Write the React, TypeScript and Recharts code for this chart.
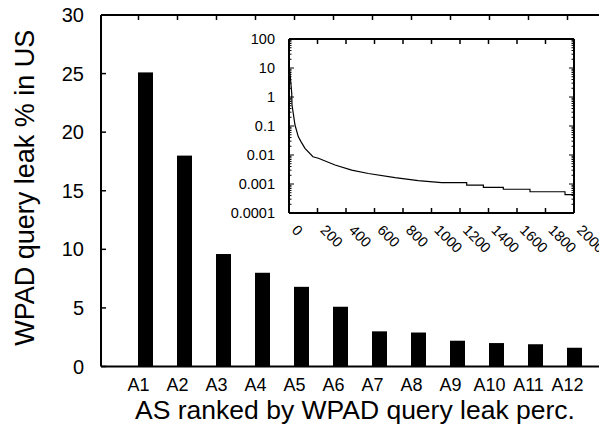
import React from 'react';
import { BarChart, Bar, XAxis, YAxis, LineChart, Line, Label } from 'recharts';

const AS_NAMES = ['A1', 'A2', 'A3', 'A4', 'A5', 'A6', 'A7', 'A8', 'A9', 'A10', 'A11', 'A12'];
const LEAK_PCT = [25.1, 18.0, 9.6, 8.0, 6.8, 5.1, 3.0, 2.9, 2.2, 2.0, 1.9, 1.6];
const PCT_TICKS = [0, 5, 10, 15, 20, 25, 30];

// inset: leak share by AS rank (log scale)
const RANK = [1, 7, 19, 21, 42, 65, 84, 112, 168, 206, 323, 440, 557, 744, 907, 1071, 1247, 1247, 1364, 1364, 1504, 1504, 1691, 1691, 1937, 1937, 2000];
const SHARE = [10, 6.6, 1.37, 0.54, 0.108, 0.043, 0.029, 0.017, 0.0087, 0.0077, 0.0045, 0.003, 0.0023, 0.00165, 0.0013, 0.00111, 0.00111, 0.00092, 0.00092, 0.00077, 0.00077, 0.00066, 0.00066, 0.00054, 0.00054, 0.00043, 0.00043];
const RANK_TICKS = [0, 200, 400, 600, 800, 1000, 1200, 1400, 1600, 1800, 2000];
const DECADES = [0.0001, 0.001, 0.01, 0.1, 1, 10, 100];

const FONT = '"Liberation Sans", Arial, Helvetica, sans-serif';

if (typeof document !== 'undefined') document.body.style.margin = '0';

const barData = AS_NAMES.map((name, i) => ({ name, pct: LEAK_PCT[i] }));
const lineData = RANK.map((rank, i) => ({ rank, share: SHARE[i] }));
const logTicks = DECADES.flatMap((d) =>
  d === 100 ? [d] : [1, 2, 3, 4, 5, 6, 7, 8, 9].map((m) => d * m)
);

const OffsetBar = (p: any) => (
  <rect x={p.x + 7} y={p.y} width={p.width} height={p.height} fill="#000" />
);
const NoBar = () => <g />;

const PctTick = (p: any) => (
  <g>
    <line x1={p.x} x2={p.x + 5} y1={p.y} y2={p.y} stroke="#000" strokeWidth={1.5} />
    <text x={p.x - 17} y={p.y} dy="0.35em" textAnchor="end" fontSize={20} fontFamily={FONT} fill="#000">
      {p.payload.value}
    </text>
  </g>
);

const CatTick = (p: any) => (
  <text x={p.x} y={p.y + 24} textAnchor="middle" fontSize={18} fontFamily={FONT} fill="#000">
    {p.payload.value}
  </text>
);

const TopCatTick = (p: any) => (
  <line x1={p.x} x2={p.x} y1={p.y} y2={p.y + 5} stroke="#000" strokeWidth={1.5} />
);

const RankTick = (p: any) => (
  <g>
    <line x1={p.x} x2={p.x} y1={p.y} y2={p.y - 5} stroke="#000" strokeWidth={1.5} />
    <text
      x={p.x + 2}
      y={p.y + 18}
      transform={`rotate(45 ${p.x + 2} ${p.y + 18})`}
      textAnchor="start"
      fontSize={14.5}
      fontFamily={FONT}
      fill="#000"
    >
      {p.payload.value}
    </text>
  </g>
);

const TopRankTick = (p: any) => (
  <line x1={p.x} x2={p.x} y1={p.y} y2={p.y + 5} stroke="#000" strokeWidth={1.5} />
);

const ShareTick = (p: any) => {
  const major = DECADES.includes(p.payload.value);
  return (
    <g>
      <line x1={p.x} x2={p.x + (major ? 5 : 2.5)} y1={p.y} y2={p.y} stroke="#000" strokeWidth={1} />
      {major && (
        <text x={p.x - 14} y={p.y} dy="0.35em" textAnchor="end" fontSize={14.5} fontFamily={FONT} fill="#000">
          {String(p.payload.value)}
        </text>
      )}
    </g>
  );
};

const RightShareTick = (p: any) => {
  const major = DECADES.includes(p.payload.value);
  return <line x1={p.x} x2={p.x - (major ? 5 : 2.5)} y1={p.y} y2={p.y} stroke="#000" strokeWidth={1} />;
};

const axisLine = { stroke: '#000', strokeWidth: 2 };

export default function App() {
  return (
    <div style={{ position: 'relative', width: 599, height: 434, overflow: 'hidden', background: '#fff' }}>
      <div style={{ position: 'absolute', left: 0, top: 0 }}>
        <BarChart width={605} height={434} data={barData} margin={{ top: 14, right: 0, bottom: 7.5, left: 0 }}>
          <XAxis
            dataKey="name"
            xAxisId="b"
            height={60}
            interval={0}
            padding={{ left: 18, right: 18 }}
            tickLine={false}
            tickSize={0}
            tickMargin={0}
            axisLine={axisLine}
            tick={<CatTick />}
          >
            <Label
              content={({ viewBox }: any) => (
                <text
                  x={viewBox.x + viewBox.width / 2 + 2}
                  y={viewBox.y + 52}
                  textAnchor="middle"
                  fontSize={26.5}
                  fontFamily={FONT}
                  fill="#000"
                >
                  AS ranked by WPAD query leak perc.
                </text>
              )}
            />
          </XAxis>
          <XAxis
            dataKey="name"
            xAxisId="t"
            orientation="top"
            height={1}
            interval={0}
            padding={{ left: 18, right: 18 }}
            tickLine={false}
            tickSize={0}
            tickMargin={0}
            axisLine={axisLine}
            tick={<TopCatTick />}
          />
          <YAxis
            width={101}
            domain={[0, 30]}
            ticks={PCT_TICKS}
            interval={0}
            tickLine={false}
            tickSize={0}
            tickMargin={0}
            axisLine={axisLine}
            tick={<PctTick />}
          >
            <Label
              content={({ viewBox }: any) => {
                const cx = viewBox.x + 25;
                const cy = viewBox.y + viewBox.height / 2 - 3;
                return (
                  <text
                    x={cx}
                    y={cy}
                    transform={`rotate(-90 ${cx} ${cy})`}
                    textAnchor="middle"
                    dominantBaseline="central"
                    fontSize={27}
                    fontFamily={FONT}
                    fill="#000"
                  >
                    WPAD query leak % in US
                  </text>
                );
              }}
            />
          </YAxis>
          <Bar dataKey="pct" xAxisId="b" barSize={15} fill="#000" shape={OffsetBar} isAnimationActive={false} />
          <Bar dataKey="pct" xAxisId="t" barSize={15} fill="none" shape={NoBar} isAnimationActive={false} />
        </BarChart>
      </div>
      <div style={{ position: 'absolute', left: 208, top: 23 }}>
        <LineChart width={391} height={250} data={lineData} margin={{ top: 15, right: 24, bottom: 20, left: 0 }}>
          <XAxis
            type="number"
            dataKey="rank"
            domain={[0, 2000]}
            ticks={RANK_TICKS}
            interval={0}
            allowDataOverflow
            height={40}
            tickLine={false}
            tickSize={0}
            tickMargin={0}
            axisLine={axisLine}
            tick={<RankTick />}
          />
          <XAxis
            type="number"
            dataKey="rank"
            xAxisId="top"
            orientation="top"
            domain={[0, 2000]}
            ticks={RANK_TICKS}
            interval={0}
            allowDataOverflow
            height={1}
            tickLine={false}
            tickSize={0}
            tickMargin={0}
            axisLine={axisLine}
            tick={<TopRankTick />}
          />
          <YAxis
            scale="log"
            domain={[0.0001, 100]}
            ticks={logTicks}
            interval={0}
            allowDataOverflow
            width={81}
            tickLine={false}
            tickSize={0}
            tickMargin={0}
            axisLine={axisLine}
            tick={<ShareTick />}
          />
          <YAxis
            yAxisId="right"
            orientation="right"
            scale="log"
            domain={[0.0001, 100]}
            ticks={logTicks}
            interval={0}
            allowDataOverflow
            width={1}
            tickLine={false}
            tickSize={0}
            tickMargin={0}
            axisLine={axisLine}
            tick={<RightShareTick />}
          />
          <Line
            type="linear"
            dataKey="share"
            stroke="#000"
            strokeWidth={1.2}
            dot={false}
            isAnimationActive={false}
          />
          <Line
            type="linear"
            dataKey="share"
            xAxisId="top"
            yAxisId="right"
            stroke="none"
            dot={false}
            activeDot={false}
            isAnimationActive={false}
          />
        </LineChart>
      </div>
    </div>
  );
}
